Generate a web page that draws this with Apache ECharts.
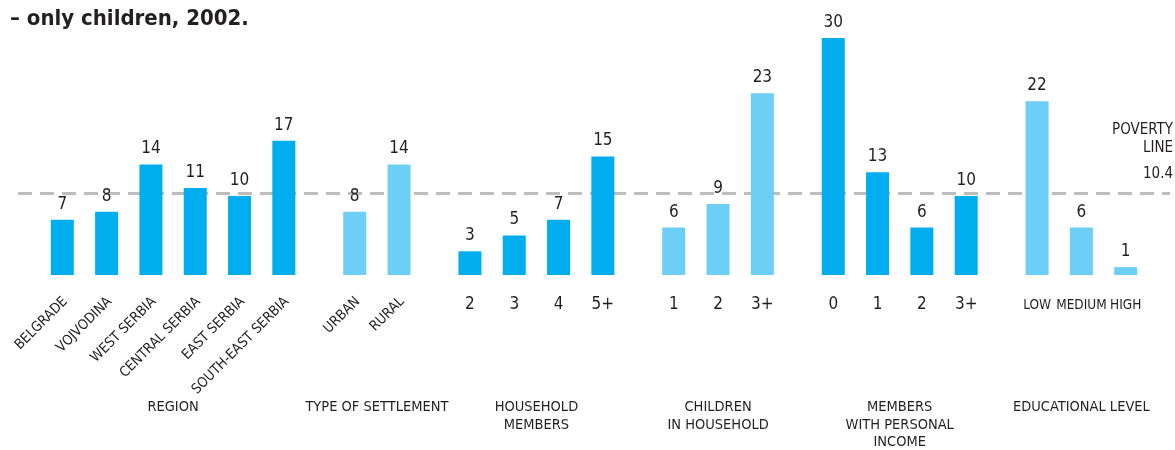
<!DOCTYPE html>
<html>
<head>
<meta charset="utf-8">
<script src="https://cdn.jsdelivr.net/npm/echarts@6/dist/echarts.min.js"></script>
<style>
  html, body { margin: 0; padding: 0; background: #fff; }
  #chart { width: 1175px; height: 450px; }
</style>
</head>
<body>
<div id="chart"></div>
<script>
// ---- Data ----
const groupTitles = ['REGION', 'TYPE OF SETTLEMENT', 'HOUSEHOLD\nMEMBERS', 'CHILDREN\nIN HOUSEHOLD', 'MEMBERS\nWITH PERSONAL\nINCOME', 'EDUCATIONAL LEVEL'];
const regionLabels = ['BELGRADE', 'VOJVODINA', 'WEST SERBIA', 'CENTRAL SERBIA', 'EAST SERBIA', 'SOUTH-EAST SERBIA'];
const regionValues = [7, 8, 14, 11, 10, 17];
const settlementLabels = ['URBAN', 'RURAL'];
const settlementValues = [8, 14];
const householdLabels = ['2', '3', '4', '5+'];
const householdValues = [3, 5, 7, 15];
const childrenLabels = ['1', '2', '3+'];
const childrenValues = [6, 9, 23];
const incomeLabels = ['0', '1', '2', '3+'];
const incomeValues = [30, 13, 6, 10];
const educationLabels = ['LOW', 'MEDIUM', 'HIGH'];
const educationValues = [22, 6, 1];
const povertyLine = 10.4;
const titleText = '\u2013 only children, 2002.';

// ---- Styling ----
const DARK = '#00aeef';
const LIGHT = '#6dcff6';
const TEXT = '#231f20';
const FONT = '"Liberation Sans Narrow", "DejaVu Sans Condensed", "Roboto Condensed", "Noto Sans", sans-serif';
const groupGap = 0.6;

// label styles: 'rot' rotated words, 'num' horizontal numbers, 'word' horizontal words
const groups = [
  { labels: regionLabels, values: regionValues, color: DARK, kind: 'rot' },
  { labels: settlementLabels, values: settlementValues, color: LIGHT, kind: 'rot' },
  { labels: householdLabels, values: householdValues, color: DARK, kind: 'num' },
  { labels: childrenLabels, values: childrenValues, color: LIGHT, kind: 'num' },
  { labels: incomeLabels, values: incomeValues, color: DARK, kind: 'num' },
  { labels: educationLabels, values: educationValues, color: LIGHT, kind: 'word' }
];

const labelStyles = {
  rot: { position: [3.5, 25], rotate: 45, align: 'right', verticalAlign: 'middle', fontSize: 14 },
  num: { position: [0.5, 30.5], rotate: 0, align: 'center', verticalAlign: 'middle', fontSize: 17 },
  word: { position: [0.5, 30.5], rotate: 0, align: 'center', verticalAlign: 'middle', fontSize: 13.5 }
};

const barData = [];
const catLabelData = [];
const groupTitleData = [];
let idx = 0;
groups.forEach((g, gi) => {
  const xs = [];
  g.values.forEach((v, i) => {
    const x = idx + gi * groupGap;
    xs.push(x);
    barData.push({ value: [x, v], itemStyle: { color: g.color } });
    catLabelData.push({ value: [x, 0], name: g.labels[i], label: labelStyles[g.kind] });
    idx++;
  });
  groupTitleData.push({ value: [(xs[0] + xs[xs.length - 1]) / 2, 0], name: groupTitles[gi] });
});

const chart = echarts.init(document.getElementById('chart'), null, { renderer: 'canvas' });
chart.setOption({
  animation: false,
  backgroundColor: '#fff',
  title: {
    text: titleText,
    left: 5, top: 3,
    textStyle: { fontFamily: FONT, fontSize: 22, fontWeight: 'bold', color: '#231f20' }
  },
  grid: { left: 18, right: 5, top: 38, bottom: 175, containLabel: false },
  xAxis: {
    type: 'value', min: -1, max: 25,
    axisLine: { show: false }, axisTick: { show: false },
    axisLabel: { show: false }, splitLine: { show: false }
  },
  yAxis: {
    type: 'value', min: 0, max: 30,
    axisLine: { show: false }, axisTick: { show: false },
    axisLabel: { show: false }, splitLine: { show: false }
  },
  series: [
    {
      type: 'bar',
      data: barData,
      barWidth: 23,
      label: {
        show: true, position: 'top', distance: 7,
        formatter: p => p.value[1],
        fontFamily: FONT, fontSize: 17, color: TEXT
      },
      markLine: {
        silent: true,
        symbol: 'none',
        lineStyle: { color: '#bdbdbd', width: 3, type: [14, 8] },
        data: [{ yAxis: povertyLine }],
        label: {
          show: true,
          position: 'insideEndTop',
          distance: [-3, 18],
          align: 'right',
          formatter: '{p|POVERTY}\n{p|LINE}\n{v|' + povertyLine + '}',
          rich: {
            p: { fontFamily: FONT, fontSize: 15, color: TEXT, lineHeight: 18, align: 'right' },
            v: { fontFamily: FONT, fontSize: 15, color: TEXT, lineHeight: 18, padding: [16, 0, 0, 0], align: 'right' }
          }
        },
        z: 1
      },
      z: 2
    },
    {
      type: 'scatter',
      data: catLabelData,
      symbolSize: 1,
      clip: false,
      itemStyle: { color: 'rgba(0,0,0,0)' },
      silent: true,
      labelLayout: { hideOverlap: false },
      label: {
        show: true,
        opacity: 1,
        formatter: p => p.name,
        fontFamily: FONT, color: TEXT
      }
    },
    {
      type: 'scatter',
      data: groupTitleData,
      symbolSize: 1,
      clip: false,
      itemStyle: { color: 'rgba(0,0,0,0)' },
      silent: true,
      label: {
        show: true,
        opacity: 1,
        formatter: p => p.name,
        position: [0.5, 124],
        align: 'center',
        verticalAlign: 'top',
        lineHeight: 17.5,
        fontFamily: FONT, fontSize: 14.5, color: TEXT
      }
    }
  ]
});
</script>
</body>
</html>
